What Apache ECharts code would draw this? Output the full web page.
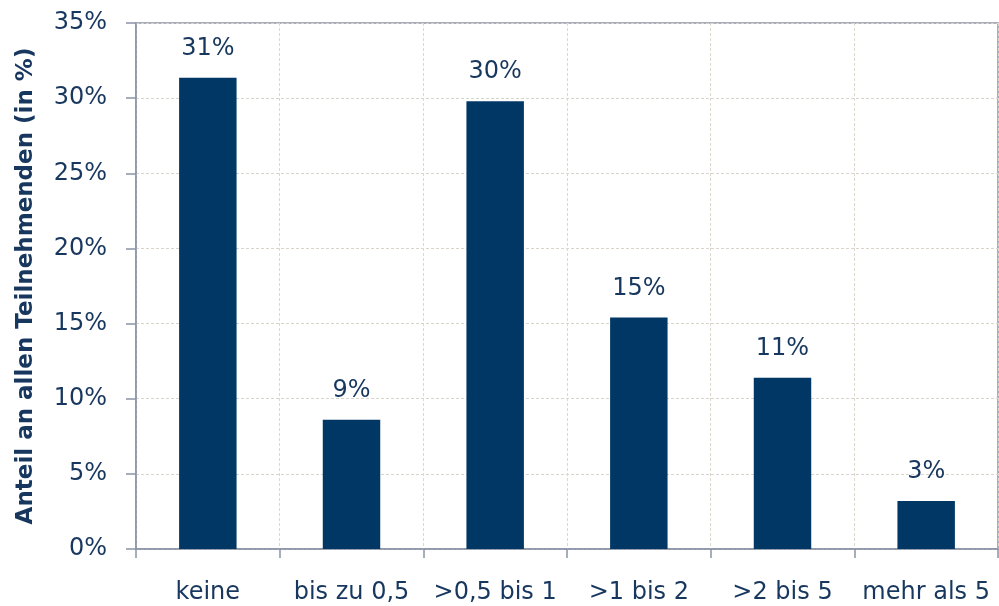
<!DOCTYPE html>
<html>
<head>
<meta charset="utf-8">
<script src="https://cdn.jsdelivr.net/npm/echarts@6/dist/echarts.min.js"></script>
<style>
  html,body{margin:0;padding:0;background:#fff;}
  #chart{width:999px;height:606px;}
</style>
</head>
<body>
<div id="chart"></div>
<script>
// Kategorien und Werte (in %)
const categories = ["keine", "bis zu 0,5", ">0,5 bis 1", ">1 bis 2", ">2 bis 5", "mehr als 5"];
const shares = [31.35, 8.6, 29.8, 15.4, 11.4, 3.2];
const yTicks = [0, 5, 10, 15, 20, 25, 30, 35];

const textColor = "#17375e",
      barColor = "#003764",
      frameColor = "#8a93a8";

const chart = echarts.init(document.getElementById("chart"));

chart.setOption({
	animation:false,
	textStyle:{fontFamily:"DejaVu Sans"},
	grid:{
		left:136, right:1, top:23, bottom:57,
		show:true, borderColor:frameColor, borderWidth:1.5
	},
	xAxis:{
		type:"category",
		data:categories,
		axisLine:{lineStyle:{color:frameColor,width:1.5}},
		axisTick:{show:true,length:9,lineStyle:{color:frameColor,width:1.5}},
		axisLabel:{color:textColor,fontSize:24,margin:32,interval:0},
		splitLine:{show:true,lineStyle:{color:"#dcd8d0",type:[3,2],width:1}}
	},
	yAxis:{
		type:"value",
		min:yTicks[0], max:yTicks[yTicks.length-1], interval:5,
		name:"Anteil an allen Teilnehmenden (in %)",
		nameLocation:"middle",
		nameGap:98,
		nameTextStyle:{color:textColor,fontSize:23,fontWeight:"bold"},
		axisLine:{show:true,lineStyle:{color:frameColor,width:1.5}},
		axisTick:{show:true,length:10,lineStyle:{color:frameColor,width:1.5}},
		axisLabel:{color:textColor,fontSize:24,margin:29,formatter:v=>v+"%"},
		splitLine:{lineStyle:{color:"#d8d4cc",type:[3,2],width:1}}
	},
	series:[{
		type:"bar",
		data:shares,
		barWidth:"40%",
		itemStyle:{color:barColor},
		label:{
			show:true,position:"top",distance:17,
			color:textColor,fontSize:24,
			formatter:p=>Math.round(p.value)+"%"
		}
	}]
});
</script>
</body>
</html>
